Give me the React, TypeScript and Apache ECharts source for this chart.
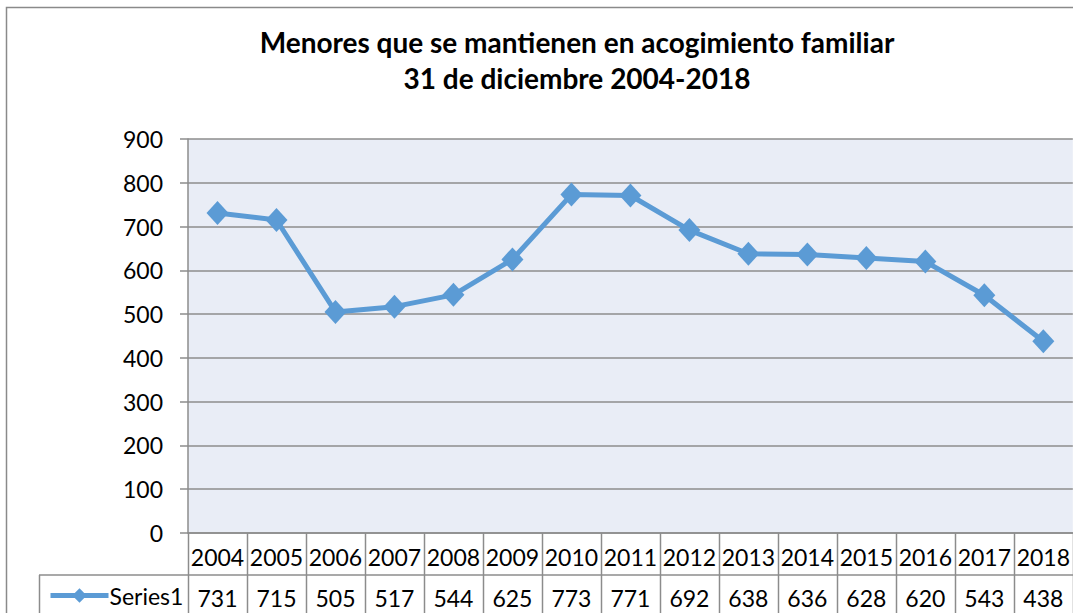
import React, { useEffect, useRef } from "react";
import * as echarts from "echarts";

const titleLines = ["Menores que se mantienen en acogimiento familiar", "31 de diciembre 2004-2018"];
const years = ["2004", "2005", "2006", "2007", "2008", "2009", "2010", "2011", "2012", "2013", "2014", "2015", "2016", "2017", "2018"];
const seriesName = "Series1";
const values = [731, 715, 505, 517, 544, 625, 773, 771, 692, 638, 636, 628, 620, 543, 438];
const yMin = 0;
const yMax = 900;
const yStep = 100;

const W = 1073;
const H = 613;
const FONT = "Lato, 'Open Sans', 'Liberation Sans', sans-serif";
const GRID_LEFT = 188;
const GRID_TOP = 139;
const GRID_BOTTOM_Y = 533;
const ROW1_BOTTOM = 575;
const LEGEND_LEFT = 39;
const LINE_GREY = "#8c8c8c";
const FS = 23;

export default function App() {
  const ref = useRef<HTMLDivElement>(null);
  useEffect(() => {
    if (!ref.current) return;
    const chart = echarts.init(ref.current, null, { renderer: "svg" });
    const gridW = W - GRID_LEFT;
    const colW = gridW / years.length;
    const tableLines: any[] = [];
    for (let i = 0; i <= years.length; i++) {
      const x = Math.round(GRID_LEFT + i * colW) + 0.5;
      tableLines.push({
        type: "line",
        shape: { x1: x, y1: GRID_BOTTOM_Y, x2: x, y2: H },
        style: { stroke: LINE_GREY, lineWidth: 1.5 },
      });
    }
    tableLines.push({
      type: "line",
      shape: { x1: LEGEND_LEFT, y1: ROW1_BOTTOM, x2: W, y2: ROW1_BOTTOM },
      style: { stroke: LINE_GREY, lineWidth: 1.5 },
    });
    tableLines.push({
      type: "line",
      shape: { x1: LEGEND_LEFT + 0.5, y1: ROW1_BOTTOM, x2: LEGEND_LEFT + 0.5, y2: H },
      style: { stroke: LINE_GREY, lineWidth: 1.5 },
    });
    tableLines.push({
      type: "polyline",
      shape: { points: [[6.5, H], [6.5, 7.5], [W, 7.5]] },
      style: { stroke: "#8a8a8a", lineWidth: 1.5, fill: null },
    });

    const option: any = {
      animation: false,
      backgroundColor: "#ffffff",
      textStyle: { fontFamily: FONT },
      title: {
        text: titleLines.join("\n"),
        left: 572,
        textAlign: "center",
        top: 19,
        textStyle: {
          fontFamily: FONT,
          fontSize: 28,
          fontWeight: "bold",
          color: "#000",
          lineHeight: 36,
        },
      },
      legend: {
        left: 43,
        top: 579,
        itemWidth: 58,
        itemHeight: 18,
        itemGap: 0,
        data: [seriesName],
        lineStyle: { width: 5, color: "#5b9bd5" },
        itemStyle: { color: "#5b9bd5" },
        textStyle: { fontFamily: FONT, fontSize: FS, color: "#000", padding: [0, 0, 0, -4] },
        selectedMode: false,
      },
      grid: {
        left: GRID_LEFT,
        top: GRID_TOP,
        width: gridW,
        height: GRID_BOTTOM_Y - GRID_TOP,
        show: true,
        backgroundColor: "#e9edf6",
        borderWidth: 0,
      },
      xAxis: [
        {
          type: "category",
          data: years,
          position: "bottom",
          axisLine: { show: true, lineStyle: { color: LINE_GREY, width: 1.5 } },
          axisTick: { show: false },
          axisLabel: { fontFamily: FONT, fontSize: FS, color: "#000", margin: 12, interval: 0 },
        },
        {
          type: "category",
          data: values.map((v) => String(v)),
          position: "bottom",
          offset: 41,
          axisLine: { show: false },
          axisTick: { show: false },
          axisLabel: { fontFamily: FONT, fontSize: FS, color: "#000", margin: 12, interval: 0 },
        },
      ],
      yAxis: {
        type: "value",
        min: yMin,
        max: yMax,
        interval: yStep,
        axisLine: { show: true, lineStyle: { color: LINE_GREY, width: 1.5 } },
        axisTick: { show: true, length: 8, lineStyle: { color: LINE_GREY, width: 1.5 } },
        splitLine: { show: true, lineStyle: { color: LINE_GREY, width: 1.5 } },
        axisLabel: { fontFamily: FONT, fontSize: FS, color: "#000", margin: 25 },
      },
      series: [
        {
          name: seriesName,
          type: "line",
          xAxisIndex: 0,
          data: values,
          symbol: "diamond",
          symbolSize: [22, 24],
          lineStyle: { color: "#5b9bd5", width: 5 },
          itemStyle: { color: "#5b9bd5" },
          label: { show: false },
        },
      ],
      graphic: tableLines,
    };
    chart.setOption(option);
    return () => chart.dispose();
  }, []);
  return (
    <div
      ref={ref}
      style={{ position: "absolute", left: 0, top: 0, width: W, height: H }}
    />
  );
}
